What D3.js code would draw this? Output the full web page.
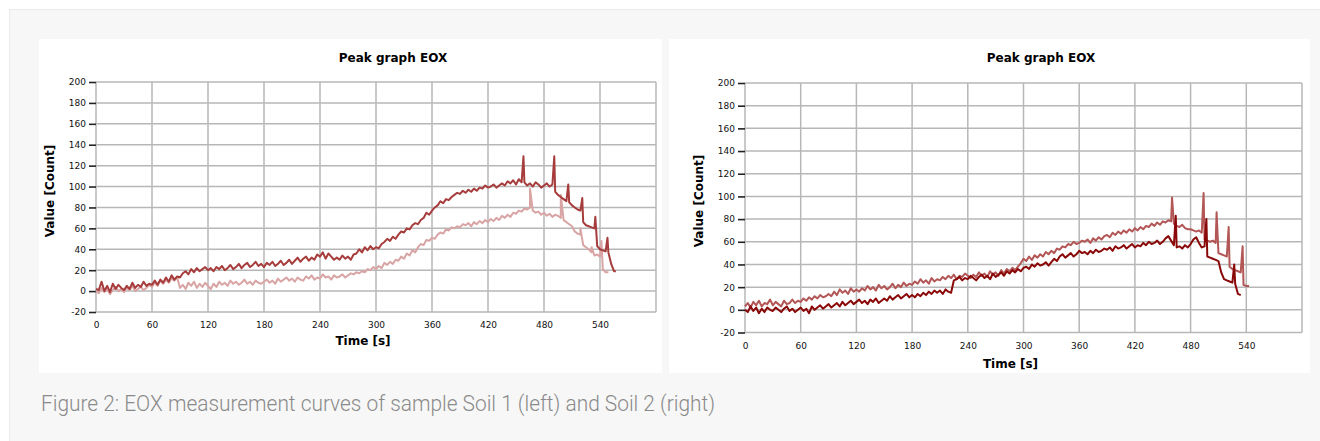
<!DOCTYPE html>
<html>
<head>
<meta charset="utf-8">
<script src="https://cdn.jsdelivr.net/npm/d3@7/dist/d3.min.js"></script>
<style>
  body { margin: 0; background: #ffffff; }
  svg { display: block; }
  .tick text { font-family: "DejaVu Sans", Verdana, sans-serif; font-size: 9px; fill: #111; }
  .chart-title, .axis-title { font-family: "DejaVu Sans", Verdana, sans-serif; font-weight: bold; fill: #000; }
</style>
</head>
<body>
<script>
// Samples every 3 s, one line = 30 s
var STEP = 3;

var X_TICKS = [0, 60, 120, 180, 240, 300, 360, 420, 480, 540];
var Y_TICKS = [-20, 0, 20, 40, 60, 80, 100, 120, 140, 160, 180, 200];
var TITLE = "Peak graph EOX";
var X_TITLE = "Time [s]";
var Y_TITLE = "Value [Count]";
var CAPTION = "Figure 2: EOX measurement curves of sample Soil 1 (left) and Soil 2 (right)";

// Soil 1, darker curve
var soil1_a = [
    2, 1, 9, 0, 5, -1, 7, 2, 6, 3,
    1, 5, 2, 8, 3, 6, 4, 9, 5, 7,
    6, 10, 6, 11, 8, 13, 9, 15, 11, 14,
    13, 17, 19, 16, 21, 18, 22, 19, 21, 23,
    20, 22, 19, 23, 21, 24, 20, 22, 25, 21,
    23, 26, 22, 25, 27, 23, 25, 28, 24, 26,
    23, 27, 25, 28, 24, 26, 29, 25, 27, 30,
    26, 29, 32, 28, 31, 33, 29, 32, 30, 35,
    33, 37, 31, 36, 33, 30, 32, 30, 34, 31,
    33, 30, 35, 36, 40, 37, 42, 39, 43, 40,
    42, 41, 45, 47, 50, 48, 52, 50, 54, 57,
    56, 60, 59, 63, 65, 64, 68, 70, 75, 73,
    77, 80, 82, 86, 84, 88, 87, 90, 92, 94,
    93, 96, 94, 97, 95, 98, 96, 99, 98, 101,
    99, 100, 102, 99, 101, 103, 101, 105, 103, 106,
    102, 107, 104, 104, 101, 103, 100, 104, 102, 99,
    101, 103, 100, 102, 95, 92, 90, 88, 86, 85,
    82, 80, 78, 77, 66, 63, 62, 61, 60, 43,
    40, 39, 38, 37, 26, 19
];
var soil1_a_spikes = [[458, 129], [491, 129], [506, 102], [521, 89], [535, 71], [548, 51], [557, 19]];

// Soil 1, lighter curve
var soil1_b = [
    0, -2, 3, -1, 2, -3, 1, 4, 0, 2,
    -1, 3, 1, 5, 0, 2, 4, 1, 3, 6,
    4, 8, 5, 10, 7, 11, 8, 12, 10, 13,
    3, 6, 2, 8, 5, 9, 3, 7, 4, 8,
    5, 2, 7, 4, 9, 6, 8, 5, 10, 7,
    9, 6, 8, 11, 7, 9, 6, 10, 8, 7,
    9, 11, 8, 10, 7, 12, 9, 11, 13, 10,
    12, 9, 13, 11, 10, 14, 12, 15, 11, 13,
    12, 16, 13, 14, 11, 15, 13, 14, 16, 13,
    15, 17, 16, 18, 17, 19, 18, 21, 20, 23,
    21, 24, 22, 27, 25, 28, 26, 30, 29, 33,
    31, 36, 34, 39, 37, 42, 45, 44, 49, 48,
    51, 50, 54, 56, 55, 59, 58, 61, 60, 62,
    61, 64, 63, 65, 62, 66, 64, 67, 65, 68,
    66, 69, 67, 70, 68, 72, 70, 73, 71, 75,
    74, 77, 76, 79, 78, 80, 77, 75, 76, 73,
    75, 72, 74, 71, 73, 72, 70, 68, 66, 64,
    62, 57, 55, 54, 44, 42, 40, 37, 34, 35,
    33, 21, 18, 18
];
var soil1_b_spikes = [[465, 98], [498, 92], [519, 60], [531, 42], [541.5, 48]];

// Soil 2, lighter curve
var soil2_a = [
    3, 6, 2, 7, 4, 8, 3, 6, 5, 9,
    4, 7, 5, 3, 8, 5, 6, 9, 6, 8,
    7, 10, 8, 11, 9, 12, 10, 13, 11, 12,
    14, 12, 16, 13, 18, 15, 17, 14, 19, 16,
    18, 16, 19, 17, 21, 18, 20, 17, 22, 19,
    21, 18, 20, 23, 19, 22, 20, 24, 21, 23,
    22, 25, 23, 27, 24, 26, 23, 28, 25, 27,
    26, 29, 27, 30, 28, 31, 27, 30, 29, 32,
    30, 28, 31, 29, 33, 30, 32, 29, 34, 31,
    33, 30, 35, 32, 36, 34, 37, 35, 38, 41,
    45, 43, 47, 44, 48, 46, 49, 47, 51, 49,
    52, 50, 54, 53, 56, 55, 58, 57, 60, 58,
    59, 61, 60, 62, 59, 63, 61, 64, 62, 65,
    66, 64, 68, 66, 69, 67, 70, 68, 71, 69,
    72, 70, 73, 71, 74, 73, 76, 74, 77, 75,
    78, 77, 79, 78, 76, 74, 73, 75, 72, 71,
    71, 70, 69, 70, 68, 62, 61, 60, 61, 59,
    50, 49, 48, 47, 38, 36, 35, 34, 33, 22,
    21, 21
];
var soil2_a_spikes = [[460, 99], [494, 103], [508, 86], [521, 73], [536, 56]];

// Soil 2, darker curve
var soil2_b = [
    0, -2, 3, -1, 2, -3, 1, -2, 2, 0,
    -1, 2, 0, -2, 1, 3, -1, 1, -2, 0,
    2, -1, 1, -3, 3, 0, 2, 4, 1, 3,
    5, 2, 4, 6, 3, 7, 4, 6, 8, 5,
    7, 9, 6, 8, 5, 9, 7, 10, 6, 8,
    10, 8, 12, 9, 11, 13, 10, 12, 14, 11,
    13, 11, 14, 12, 15, 13, 16, 14, 17, 15,
    17, 14, 18, 16, 15, 26, 27, 29, 26, 28,
    27, 30, 28, 26, 29, 31, 28, 30, 27, 32,
    29, 31, 33, 30, 34, 32, 35, 33, 36, 34,
    37, 38, 36, 40, 38, 41, 39, 40, 42, 39,
    42, 45, 43, 47, 49, 46, 48, 50, 47, 49,
    52, 50, 51, 49, 52, 50, 53, 51, 52, 54,
    53, 55, 52, 56, 54, 55, 57, 54, 56, 58,
    55, 57, 56, 59, 57, 60, 58, 59, 61, 58,
    60, 63, 65, 61, 57, 55, 56, 54, 57, 55,
    58, 62, 64, 59, 55, 56, 47, 46, 45, 44,
    43, 33, 27, 26, 25, 24, 23, 14, 13
];
var soil2_b_spikes = [[464, 83], [497, 80], [527, 40]];

// Build [t, v] points from the regular samples plus the narrow spikes
function build_points(values, spikes) {
    var pts = values.map(function (v, i) { return [i * STEP, v]; });
    pts = pts.concat(spikes);
    pts.sort(function (a, b) { return a[0] - b[0]; });
    return pts;
}

var W = 1320, H = 441;
var svg = d3.select("body").append("svg").attr("width", W).attr("height", H);

// Grey page frame
svg.append("rect").attr("x", 9.5).attr("y", 9.5).attr("width", W).attr("height", H)
    .attr("fill", "#f7f7f7").attr("stroke", "#ebebeb");

var charts = [
    {panel: [39, 39, 623, 334], plot: [96, 82, 656, 312], titleX: 393, xTitleY: 345, yTitleX: 50, yTitleY: 191,
     series: [{pts: build_points(soil1_b, soil1_b_spikes), color: "#d8a4a4"},
              {pts: build_points(soil1_a, soil1_a_spikes), color: "#a73c3c"}]},
    {panel: [669, 39, 641, 334], plot: [745, 83, 1302, 332.5], titleX: 1041, xTitleY: 368, yTitleX: 699, yTitleY: 201,
     series: [{pts: build_points(soil2_a, soil2_a_spikes), color: "#b35656"},
              {pts: build_points(soil2_b, soil2_b_spikes), color: "#8a0808"}]}
];

charts.forEach(function (c) {
    svg.append("rect").attr("x", c.panel[0]).attr("y", c.panel[1])
        .attr("width", c.panel[2]).attr("height", c.panel[3]).attr("fill", "#ffffff");

    var x = d3.scaleLinear().domain([0, 600]).range([c.plot[0], c.plot[2]]);
    var y = d3.scaleLinear().domain([-20, 200]).range([c.plot[3], c.plot[1]]);
    var g = svg.append("g");

    // Grid
    g.selectAll("line.vgrid").data(d3.range(0, 601, 60)).enter().append("line")
        .attr("x1", function (d) { return x(d); }).attr("x2", function (d) { return x(d); })
        .attr("y1", y(-20)).attr("y2", y(200))
        .attr("stroke", "#b7b7b7").attr("stroke-width", 1.5);
    g.selectAll("line.hgrid").data(Y_TICKS).enter().append("line")
        .attr("x1", x(0)).attr("x2", x(600))
        .attr("y1", function (d) { return y(d); }).attr("y2", function (d) { return y(d); })
        .attr("stroke", "#b7b7b7").attr("stroke-width", 1.5);

    // Axes (plain hyphen for negative labels)
    var ya = g.append("g").attr("transform", "translate(" + c.plot[0] + ",0)")
        .call(d3.axisLeft(y).tickValues(Y_TICKS).tickSize(7).tickPadding(3)
            .tickFormat(function (d) { return String(d); }));
    ya.select(".domain").remove();
    ya.selectAll(".tick line").attr("stroke", "#222").attr("stroke-width", 1.6);

    var xa = g.append("g").attr("transform", "translate(0," + c.plot[3] + ")")
        .call(d3.axisBottom(x).tickValues(X_TICKS).tickSize(0).tickPadding(10));
    xa.select(".domain").remove();

    // Curves
    var line = d3.line().x(function (d) { return x(d[0]); }).y(function (d) { return y(d[1]); });
    c.series.forEach(function (s) {
        g.append("path").datum(s.pts).attr("d", line)
            .attr("fill", "none").attr("stroke", s.color)
            .attr("stroke-width", 2).attr("stroke-linejoin", "round");
    });

    // Titles
    g.append("text").attr("class", "chart-title").attr("x", c.titleX).attr("y", 62)
        .attr("text-anchor", "middle").style("font-size", "12px").text(TITLE);
    g.append("text").attr("class", "axis-title").attr("x", (c.plot[0] + c.plot[2]) / 2 - 13)
        .attr("y", c.xTitleY).attr("text-anchor", "middle").style("font-size", "12px").text(X_TITLE);
    g.append("text").attr("class", "axis-title")
        .attr("transform", "translate(" + (c.yTitleX + 4) + "," + c.yTitleY + ") rotate(-90)")
        .attr("text-anchor", "middle").style("font-size", "12px").text(Y_TITLE);
});

// Caption
svg.append("text").attr("x", 41).attr("y", 411)
    .attr("font-family", "Roboto, 'Open Sans', sans-serif").attr("font-weight", 300)
    .attr("font-size", "22px").attr("fill", "#8a8a8a")
    .attr("textLength", 674).attr("lengthAdjust", "spacingAndGlyphs")
    .text(CAPTION);
</script>
</body>
</html>
